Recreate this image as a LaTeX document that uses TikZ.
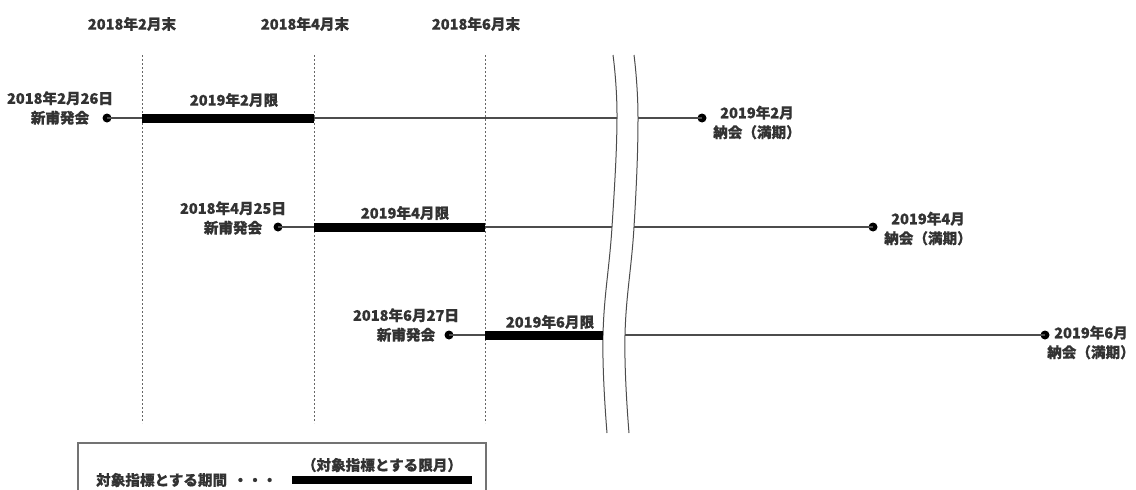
\documentclass[tikz,border=0pt]{standalone}
\usepackage{fontspec}
\setmainfont{Noto Sans CJK JP}[FakeBold=0.4]
\begin{document}
\begin{tikzpicture}[x=1pt,y=-1pt,
  lbl/.style={font=\fontsize{14.6}{19.5}\selectfont\bfseries, inner sep=0pt, align=center, text=black!80},
  thinline/.style={draw=black!70, line width=1.1pt},
  bar/.style={line width=9pt, draw=black},
  guide/.style={draw=black!60, line width=1pt, dash pattern=on 2pt off 2pt},
  dot/.style={circle, fill=black, inner sep=0pt, minimum size=9pt},
  brk/.style={draw=black!70, line width=1pt}]
\useasboundingbox (0,0) rectangle (1136,490);
\clip (0,0) rectangle (1136,490);
\fill[white] (0,0) rectangle (1136,490);

% headers and guides
\node[lbl] (h1) at (132,24) {2018年2月末};
\node[lbl] (h2) at (305,24) {2018年4月末};
\node[lbl] (h3) at (476,24) {2018年6月末};
\coordinate (g1t) at (142,55); \coordinate (g1b) at (142,423);
\coordinate (g2t) at (314,55); \coordinate (g2b) at (314,423);
\coordinate (g3t) at (485,55); \coordinate (g3b) at (485,423);
\draw[guide] (g1t) -- (g1b);
\draw[guide] (g2t) -- (g2b);
\draw[guide] (g3t) -- (g3b);

% break marks
\draw[brk] plot[smooth, tension=0.7] coordinates {(613,55) (617,118) (612,227) (603,335) (607,433)};
\draw[brk] plot[smooth, tension=0.7] coordinates {(634,55) (638,118) (634,227) (625,335) (629,433)};

% row 1
\node[dot] (s1) at (107,118) {};
\node[lbl] (sl1) at (60,108) {2018年2月26日\\新甫発会};
\coordinate (b1a) at (142,118); \coordinate (b1b) at (314,118);
\coordinate (k1l) at (617,118); \coordinate (k1r) at (638,118);
\node[dot] (e1) at (702,118) {};
\node[lbl, anchor=west] (el1) at (713,122.5) {2019年2月\\納会（満期）};
\draw[thinline] (s1.center) -- (k1l);
\draw[thinline] (k1r) -- (e1.center);
\draw[bar] (b1a) -- (b1b);
\node[lbl] (c1) at (234,100) {2019年2月限};

% row 2
\node[dot] (s2) at (278,227) {};
\node[lbl] (sl2) at (233,218) {2018年4月25日\\新甫発会};
\coordinate (b2a) at (314,227); \coordinate (b2b) at (485,227);
\coordinate (k2l) at (612,227); \coordinate (k2r) at (634,227);
\node[dot] (e2) at (873,227) {};
\node[lbl, anchor=west] (el2) at (884,228.5) {2019年4月\\納会（満期）};
\draw[thinline] (s2.center) -- (k2l);
\draw[thinline] (k2r) -- (e2.center);
\draw[bar] (b2a) -- (b2b);
\node[lbl] (c2) at (405,213) {2019年4月限};

% row 3
\node[dot] (s3) at (449,335) {};
\node[lbl] (sl3) at (406,325) {2018年6月27日\\新甫発会};
\coordinate (b3a) at (485,335); \coordinate (k3l) at (603,335);
\coordinate (k3r) at (625,335);
\node[dot] (e3) at (1045,335) {};
\node[lbl, anchor=west] (el3) at (1047,342.5) {2019年6月\\納会（満期）};
\draw[thinline] (s3.center) -- (b3a);
\draw[thinline] (k3r) -- (e3.center);
\draw[bar] (b3a) -- (k3l);
\node[lbl] (c3) at (550,322) {2019年6月限};

% legend
\draw[draw=black!55, line width=1.5pt] (78,443) rectangle (486,520);
\node[lbl, anchor=west] (lt) at (96,480) {対象指標とする期間\hspace{6pt}・・・};
\coordinate (lb1) at (292,480); \coordinate (lb2) at (472,480);
\draw[bar, line width=8pt] (lb1) -- (lb2);
\node[lbl] (ll) at (382,465) {（対象指標とする限月）};
\end{tikzpicture}
\end{document}
